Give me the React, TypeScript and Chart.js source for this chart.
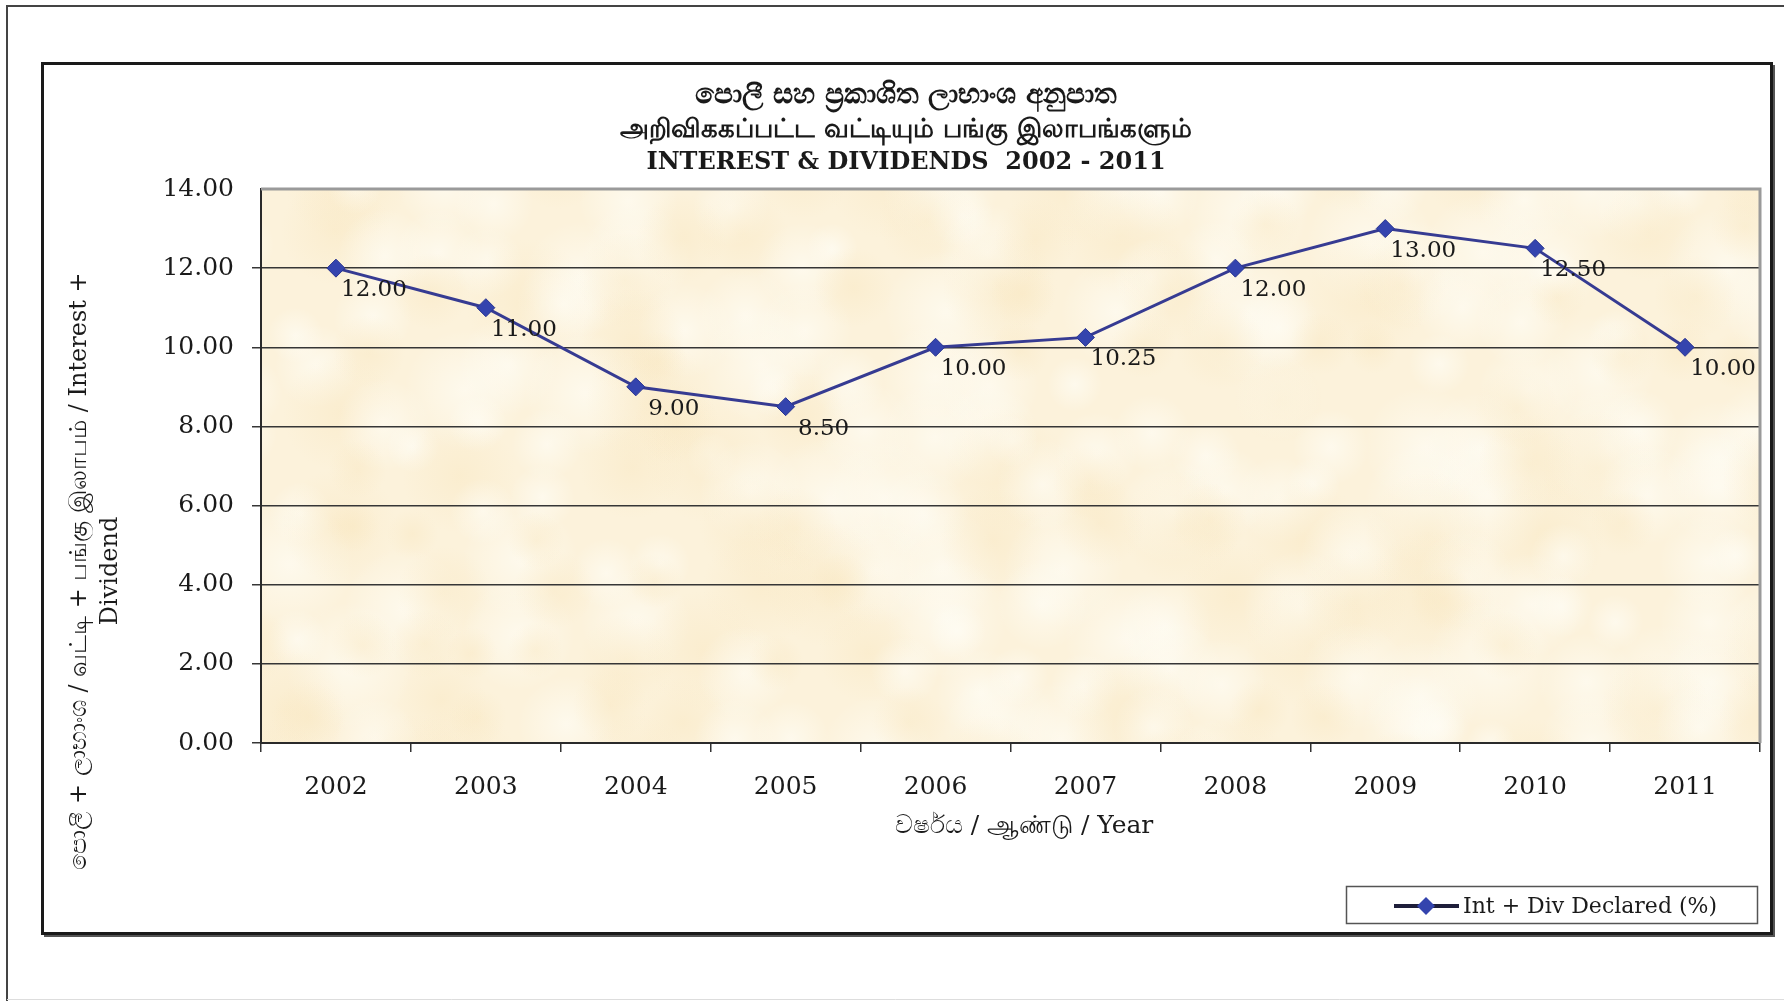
import React, { useEffect, useRef } from "react";
import { Chart, registerables } from "chart.js";

Chart.register(...registerables);

const W = 1784;
const H = 1001;

const years = ["2002", "2003", "2004", "2005", "2006", "2007", "2008", "2009", "2010", "2011"];
const intDivDeclared = [12.0, 11.0, 9.0, 8.5, 10.0, 10.25, 12.0, 13.0, 12.5, 10.0];
const yMin = 0;
const yMax = 14;
const yStep = 2;

const titleLines = [
  "පොලී සහ ප්‍රකාශිත ලාභාංශ අනුපාත",
  "அறிவிககப்பட்ட வட்டியும் பங்கு இலாபங்களும்",
  "INTEREST & DIVIDENDS  2002 - 2011",
];
const yTitleLines = ["පොලී + ලාභාංශ / வட்டி + பங்கு இலாபம் / Interest +", "Dividend"];
const xTitle = "වර්ෂය / ஆண்டு / Year";
const seriesLabel = "Int + Div Declared (%)";

const SERIF = "'DejaVu Serif', 'Liberation Serif', 'Noto Sans', serif";
const LINE_COLOR = "#363b92";
const POINT_COLOR = "#3444ae";

function drawTexture(ctx: CanvasRenderingContext2D, x: number, y: number, w: number, h: number) {
  ctx.save();
  ctx.beginPath();
  ctx.rect(x, y, w, h);
  ctx.clip();
  ctx.fillStyle = "#fcf2db";
  ctx.fillRect(x, y, w, h);
  // soft blotches on a deterministic lattice
  const step = 60;
  for (let gy = 0; gy * step < h + step; gy++) {
    for (let gx = 0; gx * step < w + step; gx++) {
      const s = Math.sin(gx * 12.9898 + gy * 78.233) * 43758.5453;
      const f = s - Math.floor(s);
      const s2 = Math.sin(gx * 39.346 + gy * 11.135) * 24634.6345;
      const f2 = s2 - Math.floor(s2);
      const cx = x + gx * step + (f - 0.5) * step;
      const cy = y + gy * step + (f2 - 0.5) * step;
      const r = 25 + f * 40;
      const light = f2 > 0.4;
      const grd = ctx.createRadialGradient(cx, cy, 0, cx, cy, r);
      if (light) {
        grd.addColorStop(0, "rgba(255,254,248,0.6)");
        grd.addColorStop(1, "rgba(255,254,248,0)");
      } else {
        grd.addColorStop(0, "rgba(248,228,185,0.35)");
        grd.addColorStop(1, "rgba(248,228,185,0)");
      }
      ctx.fillStyle = grd;
      ctx.fillRect(cx - r, cy - r, r * 2, r * 2);
    }
  }
  ctx.restore();
}

const decoPlugin = {
  id: "deco",
  beforeDraw(chart: any) {
    const { ctx, chartArea: a } = chart;
    ctx.save();
    ctx.fillStyle = "#ffffff";
    ctx.fillRect(0, 0, W, H);
    // outer frame
    ctx.strokeStyle = "#444";
    ctx.lineWidth = 2;
    ctx.beginPath();
    ctx.moveTo(7, H);
    ctx.lineTo(7, 6);
    ctx.lineTo(W, 6);
    ctx.stroke();
    ctx.strokeStyle = "#ddd";
    ctx.lineWidth = 1;
    ctx.beginPath();
    ctx.moveTo(7, H - 1.5);
    ctx.lineTo(W, H - 1.5);
    ctx.stroke();
    // inner frame with shadow
    ctx.fillStyle = "#555";
    ctx.fillRect(44, 933, 1731, 4);
    ctx.fillRect(1771, 65, 4, 872);
    ctx.strokeStyle = "#1a1a1a";
    ctx.lineWidth = 3;
    ctx.strokeRect(42.5, 63.5, 1729, 870);
    // plot background
    drawTexture(ctx, a.left, a.top, a.right - a.left, a.bottom - a.top);
    ctx.restore();
  },
  beforeDatasetsDraw(chart: any) {
    const { ctx, chartArea: a } = chart;
    ctx.save();
    ctx.strokeStyle = "#9a9a9a";
    ctx.lineWidth = 3;
    ctx.beginPath();
    ctx.moveTo(a.left, a.top);
    ctx.lineTo(a.right, a.top);
    ctx.lineTo(a.right, a.bottom);
    ctx.stroke();
    ctx.restore();
  },
  afterDatasetsDraw(chart: any) {
    const { ctx } = chart;
    const meta = chart.getDatasetMeta(0);
    ctx.save();
    ctx.fillStyle = "#1a1a1a";
    ctx.font = `23px ${SERIF}`;
    ctx.textAlign = "center";
    ctx.textBaseline = "middle";
    meta.data.forEach((el: any, i: number) => {
      const v = chart.data.datasets[0].data[i] as number;
      ctx.fillText(v.toFixed(2), el.x + 38, el.y + 22);
    });
    ctx.restore();
  },
  afterDraw(chart: any) {
    const { ctx } = chart;
    ctx.save();
    ctx.fillStyle = "#1a1a1a";
    ctx.textAlign = "center";
    ctx.textBaseline = "middle";
    // titles
    const ty = [96, 130, 163];
    const tf = [`bold 28px ${SERIF}`, `bold 26px ${SERIF}`, `bold 24px ${SERIF}`];
    titleLines.forEach((t, i) => {
      ctx.font = tf[i];
      ctx.fillText(t, 906, ty[i]);
    });
    // y axis title (rotated)
    ctx.font = `24px ${SERIF}`;
    ctx.save();
    ctx.translate(80, 571);
    ctx.rotate(-Math.PI / 2);
    ctx.fillText(yTitleLines[0], 0, 0);
    ctx.fillText(yTitleLines[1], 0, 31);
    ctx.restore();
    // x axis title
    ctx.font = `25px ${SERIF}`;
    ctx.fillText(xTitle, 1024, 826);
    // legend
    ctx.fillStyle = "#ffffff";
    ctx.fillRect(1346, 886, 412, 38);
    ctx.strokeStyle = "#555";
    ctx.lineWidth = 1.5;
    ctx.strokeRect(1346.5, 886.5, 411, 37);
    ctx.strokeStyle = "#1e1e3a";
    ctx.lineWidth = 4;
    ctx.beginPath();
    ctx.moveTo(1394, 906);
    ctx.lineTo(1459, 906);
    ctx.stroke();
    ctx.fillStyle = POINT_COLOR;
    ctx.beginPath();
    ctx.moveTo(1426, 897);
    ctx.lineTo(1435, 906);
    ctx.lineTo(1426, 915);
    ctx.lineTo(1417, 906);
    ctx.closePath();
    ctx.fill();
    ctx.fillStyle = "#1a1a1a";
    ctx.textAlign = "left";
    ctx.font = `22px ${SERIF}`;
    ctx.fillText(seriesLabel, 1463, 907);
    ctx.restore();
  },
};

export default function App() {
  const ref = useRef<HTMLCanvasElement>(null);
  useEffect(() => {
    document.body.style.margin = "0";
    const canvas = ref.current!;
    const chart = new Chart(canvas, {
      type: "line",
      data: {
        labels: years,
        datasets: [
          {
            label: seriesLabel,
            data: intDivDeclared,
            borderColor: LINE_COLOR,
            borderWidth: 3,
            backgroundColor: POINT_COLOR,
            pointStyle: "rectRot",
            pointRadius: 9,
            pointBackgroundColor: POINT_COLOR,
            pointBorderColor: "#2a3590",
            pointBorderWidth: 1,
            tension: 0,
            fill: false,
          },
        ],
      },
      options: {
        animation: false,
        responsive: false,
        devicePixelRatio: 1,
        layout: { padding: { left: 0, top: 189, right: 24, bottom: 0 } },
        plugins: {
          legend: { display: false },
          title: { display: false },
          tooltip: { enabled: false },
        },
        scales: {
          x: {
            type: "category",
            offset: true,
            afterFit(s: any) {
              s.height = 258;
            },
            grid: {
              display: true,
              drawOnChartArea: false,
              drawTicks: true,
              tickLength: 9,
              offset: true,
              color: "#333",
              lineWidth: 1.5,
            },
            border: { display: true, color: "#2a2a2a", width: 2 },
            ticks: {
              color: "#1a1a1a",
              font: { family: SERIF, size: 25 },
              padding: 20,
              maxRotation: 0,
              autoSkip: false,
            },
          },
          y: {
            min: yMin,
            max: yMax,
            afterFit(s: any) {
              s.width = 261;
            },
            grid: {
              color: (c: any) => (c.tick && c.tick.value === yMax ? "rgba(0,0,0,0)" : "#363636"),
              lineWidth: 1.5,
              drawTicks: true,
              tickLength: 9,
            },
            border: { display: true, color: "#2a2a2a", width: 2 },
            ticks: {
              stepSize: yStep,
              color: "#1a1a1a",
              font: { family: SERIF, size: 25 },
              padding: 18,
              callback: (v: any) => Number(v).toFixed(2),
            },
          },
        },
      },
      plugins: [decoPlugin],
    });
    return () => chart.destroy();
  }, []);
  return (
    <div style={{ width: W, height: H }}>
      <canvas ref={ref} width={W} height={H} style={{ display: "block", width: W, height: H }} />
    </div>
  );
}
